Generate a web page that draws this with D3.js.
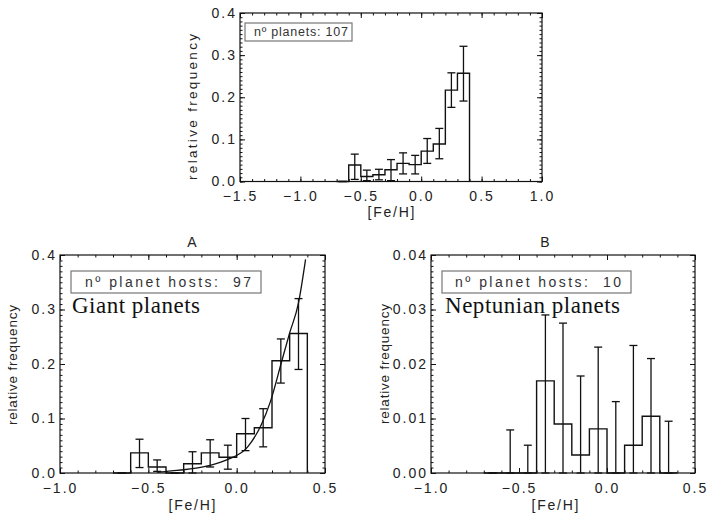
<!DOCTYPE html>
<html lang="en">
<head>
<meta charset="UTF-8">
<title>[Fe/H] distribution of planet hosts</title>
<style>
  body { margin: 0; background: #fff; }
  svg { display: block; font-family: "Liberation Sans", Arial, sans-serif; }
  .tick text { font-size: 14px; letter-spacing: 2px; fill: #222; }
  .tick line { stroke: #111; }
</style>
</head>
<body>
<svg id="chart" width="707" height="516"></svg>
<script src="https://d3js.org/d3.v7.min.js"></script>
<script>
// bin centres, bins are 0.1 dex wide
const binMids = [-0.65, -0.55, -0.45, -0.35, -0.25, -0.15, -0.05, 0.05, 0.15, 0.25, 0.35]

// top: all planets
const allFreq = [0, 0.039, 0.012, 0.016, 0.028, 0.043, 0.040, 0.072, 0.089, 0.217, 0.257]
const allLo   = [0, 0.005, 0.002, 0.004, 0.002, 0.018, 0.018, 0.043, 0.054, 0.176, 0.191]
const allHi   = [0, 0.065, 0.027, 0.029, 0.052, 0.068, 0.062, 0.102, 0.126, 0.258, 0.321]

// A: giant planets
const giantFreq = [0, 0.037, 0.011, 0, 0.017, 0.037, 0.029, 0.072, 0.083, 0.206, 0.256]
const giantLo   = [0, 0.010, 0.003, 0, 0.000, 0.011, 0.007, 0.041, 0.048, 0.165, 0.190]
const giantHi   = [0, 0.062, 0.024, 0, 0.039, 0.061, 0.051, 0.100, 0.118, 0.246, 0.320]

// fit curve
const fitX = [-0.45, -0.37, -0.30, -0.23, -0.15, -0.05, 0.06, 0.14, 0.19, 0.255, 0.30, 0.35, 0.39]
const fitY = [0.001, 0.004, 0.006, 0.009, 0.014, 0.025, 0.047, 0.089, 0.130, 0.205, 0.257, 0.312, 0.392]

// B: neptunian planets
const neptFreq = [0, 0, 0, 0.0169, 0.0090, 0.0033, 0.0081, 0, 0.0051, 0.0104, 0]
const neptLo   = [0, 0, 0, 0, 0, 0, 0, 0, 0, 0, 0]
const neptHi   = [0, 0.0079, 0.0051, 0.0290, 0.0275, 0.0178, 0.0231, 0.0131, 0.0234, 0.0210, 0.0095]

const topXTicks = [-1.5, -1.0, -0.5, 0.0, 0.5, 1.0]
const botXTicks = [-1.0, -0.5, 0.0, 0.5]
const freqTicks = [0, 0.1, 0.2, 0.3, 0.4]
const neptTicks = [0, 0.01, 0.02, 0.03, 0.04]

const svg = d3.select('#chart')
svg.append('rect').attr('width', 707).attr('height', 516).attr('fill', '#fff')

function panel(o) {
  const x = d3.scaleLinear().domain(o.xDomain).range([o.left, o.right])
  const y = d3.scaleLinear().domain(o.yDomain).range([o.bottom, o.top])
  const g = svg.append('g')

  const xMinor = d3.range(o.xDomain[0], o.xDomain[1] + 1e-9, 0.1)
  const yMinor = d3.range(o.yDomain[0], o.yDomain[1] + 1e-9, o.yMinorStep)

  // inward ticks on all four sides, labels only bottom/left
  g.append('g').attr('transform', `translate(0,${o.bottom})`)
    .call(d3.axisBottom(x).tickValues(xMinor).tickSize(-2.5).tickFormat(''))
  g.append('g').attr('class', 'xlab').attr('transform', `translate(0,${o.bottom})`)
    .call(d3.axisBottom(x).tickValues(o.xTicks).tickSize(-5).tickPadding(10).tickFormat(d3.format('.1f')))
  g.append('g').attr('transform', `translate(0,${o.top})`)
    .call(d3.axisTop(x).tickValues(xMinor).tickSize(-2.5).tickFormat(''))
  g.append('g').attr('transform', `translate(0,${o.top})`)
    .call(d3.axisTop(x).tickValues(o.xTicks).tickSize(-5).tickFormat(''))
  g.append('g').attr('transform', `translate(${o.left},0)`)
    .call(d3.axisLeft(y).tickValues(yMinor).tickSize(-2.5).tickFormat(''))
  g.append('g').attr('transform', `translate(${o.left},0)`)
    .call(d3.axisLeft(y).tickValues(o.yTicks).tickSize(-5).tickPadding(3).tickFormat(d3.format(o.yFormat)))
  g.append('g').attr('transform', `translate(${o.right},0)`)
    .call(d3.axisRight(y).tickValues(yMinor).tickSize(-2.5).tickFormat(''))
  g.append('g').attr('transform', `translate(${o.right},0)`)
    .call(d3.axisRight(y).tickValues(o.yTicks).tickSize(-5).tickFormat(''))
  g.selectAll('.domain').remove()

  g.append('rect')
    .attr('x', o.left).attr('y', o.top)
    .attr('width', o.right - o.left).attr('height', o.bottom - o.top)
    .attr('fill', 'none').attr('stroke', '#111').attr('stroke-width', 1.2)

  // histogram outline
  const pts = [[binMids[0] - 0.05, 0]]
  o.freq.forEach((v, i) => {
    pts.push([binMids[i] - 0.05, v], [binMids[i] + 0.05, v])
  })
  pts.push([binMids[binMids.length - 1] + 0.05, 0])
  g.append('path')
    .attr('d', d3.line().x(d => x(d[0])).y(d => y(d[1]))(pts))
    .attr('fill', 'none').attr('stroke', '#111').attr('stroke-width', 1.4)

  // error bars
  const eb = g.append('g').attr('stroke', '#111').attr('stroke-width', 1.3)
  binMids.forEach((m, i) => {
    const cx = x(m)
    eb.append('line').attr('x1', cx).attr('x2', cx).attr('y1', y(o.lo[i])).attr('y2', y(o.hi[i]))
    eb.append('line').attr('x1', cx - 4).attr('x2', cx + 4).attr('y1', y(o.lo[i])).attr('y2', y(o.lo[i]))
    eb.append('line').attr('x1', cx - 4).attr('x2', cx + 4).attr('y1', y(o.hi[i])).attr('y2', y(o.hi[i]))
  })

  if (o.fit) {
    g.append('path')
      .datum(fitX.map((v, i) => [v, fitY[i]]))
      .attr('d', d3.line().x(d => x(d[0])).y(d => y(d[1])).curve(d3.curveMonotoneX))
      .attr('fill', 'none').attr('stroke', '#111').attr('stroke-width', 1.3)
  }

  // axis titles
  g.append('text')
    .attr('x', o.xLabelPos[0]).attr('y', o.xLabelPos[1])
    .attr('text-anchor', 'middle').attr('font-size', 14).attr('fill', '#222')
    .attr('textLength', 47).attr('lengthAdjust', 'spacing')
    .text('[Fe/H]')
  g.append('text')
    .attr('transform', `translate(${o.yLabelPos[0]},${o.yLabelPos[1]}) rotate(-90)`)
    .attr('text-anchor', 'middle').attr('font-size', 13.5).attr('fill', '#222')
    .attr('textLength', o.yLabelLen).attr('lengthAdjust', 'spacing')
    .text('relative frequency')

  if (o.title) {
    g.append('text')
      .attr('x', o.title[1]).attr('y', 247)
      .attr('text-anchor', 'middle').attr('font-size', 14).attr('fill', '#222')
      .text(o.title[0])
  }

  // legend box
  const lb = o.legend
  g.append('rect')
    .attr('x', lb.box[0]).attr('y', lb.box[1]).attr('width', lb.box[2]).attr('height', lb.box[3])
    .attr('fill', '#fff').attr('stroke', '#777').attr('stroke-width', 1.2)
  g.append('text')
    .attr('x', lb.text[0]).attr('y', lb.text[1])
    .attr('font-size', lb.size).attr('fill', '#333')
    .style('white-space', 'pre')
    .attr('textLength', lb.text[2]).attr('lengthAdjust', 'spacing')
    .text(lb.label)

  if (o.name) {
    g.append('text')
      .attr('x', o.name[1]).attr('y', 313)
      .attr('font-family', '"Liberation Serif", "Times New Roman", serif')
      .attr('font-size', 23).attr('fill', '#111')
      .attr('textLength', o.name[2]).attr('lengthAdjust', 'spacing')
      .text(o.name[0])
  }
}

panel({
  left: 240, right: 542, top: 13, bottom: 181.5,
  xDomain: [-1.5, 1.0], yDomain: [0, 0.4], yMinorStep: 0.01,
  xTicks: topXTicks, yTicks: freqTicks, yFormat: '.1f',
  freq: allFreq, lo: allLo, hi: allHi,
  xLabelPos: [391, 217], yLabelPos: [197, 107], yLabelLen: 146,
  legend: { box: [245, 23, 107, 18], text: [254, 36, 94], size: 12.5, label: 'nº planets: 107' }
})

panel({
  left: 60, right: 325, top: 255, bottom: 473,
  xDomain: [-1.0, 0.5], yDomain: [0, 0.4], yMinorStep: 0.01,
  xTicks: botXTicks, yTicks: freqTicks, yFormat: '.1f',
  freq: giantFreq, lo: giantLo, hi: giantHi, fit: true,
  xLabelPos: [192, 510], yLabelPos: [17, 365], yLabelLen: 120,
  title: ['A', 192],
  legend: { box: [71, 271, 190, 22], text: [85, 287, 166], size: 14, label: 'nº planet hosts:  97' },
  name: ['Giant planets', 72, 128]
})

panel({
  left: 431, right: 695, top: 255, bottom: 473,
  xDomain: [-1.0, 0.5], yDomain: [0, 0.04], yMinorStep: 0.001,
  xTicks: botXTicks, yTicks: neptTicks, yFormat: '.2f',
  freq: neptFreq, lo: neptLo, hi: neptHi,
  xLabelPos: [555, 510], yLabelPos: [389, 364], yLabelLen: 120,
  title: ['B', 545],
  legend: { box: [442, 271, 189, 22], text: [455, 287, 166], size: 14, label: 'nº planet hosts:  10' },
  name: ['Neptunian planets', 445, 175]
})
</script>
</body>
</html>
